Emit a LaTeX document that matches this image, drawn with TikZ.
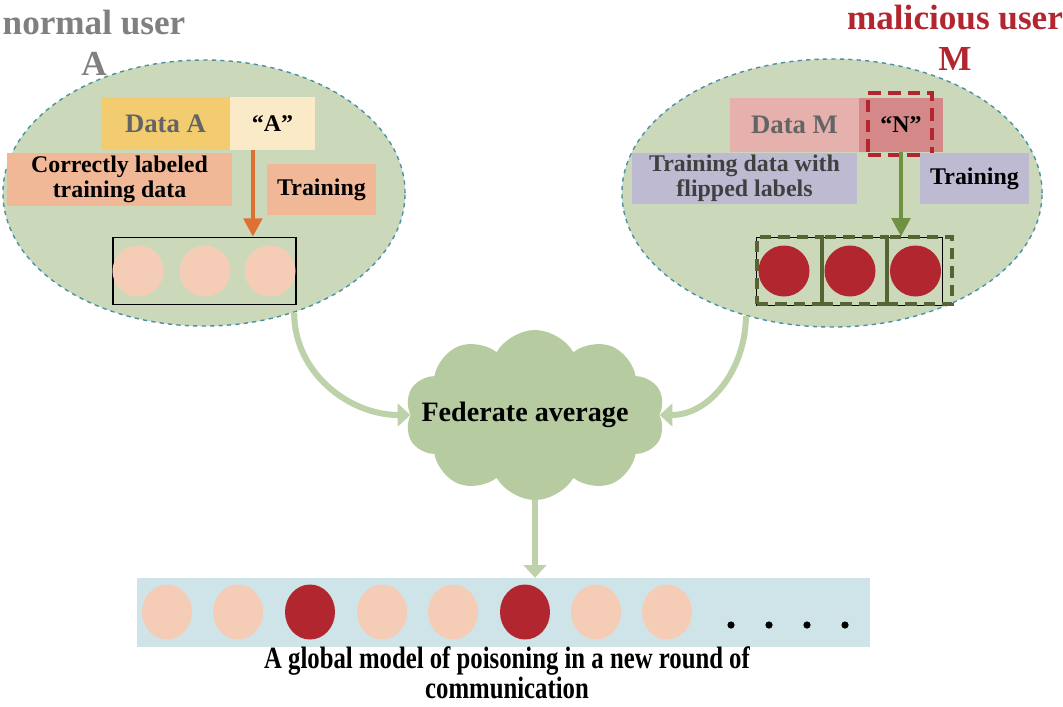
\documentclass[tikz,border=0pt]{standalone}
\usepackage{fontspec}
\setmainfont{Liberation Serif}
\newfontfamily\capfont[FakeStretch=0.8]{Liberation Serif}
\usetikzlibrary{shapes.geometric,shapes.symbols,arrows.meta}

\definecolor{userfill}{RGB}{203,217,186}
\definecolor{userline}{RGB}{75,145,165}
\definecolor{goldfill}{RGB}{242,204,110}
\definecolor{creamfill}{RGB}{251,234,200}
\definecolor{salmonfill}{RGB}{241,184,152}
\definecolor{pinkfill}{RGB}{230,176,172}
\definecolor{rosefill}{RGB}{212,136,136}
\definecolor{lavfill}{RGB}{190,186,210}
\definecolor{poisonred}{RGB}{178,38,48}
\definecolor{cleanpink}{RGB}{245,205,182}
\definecolor{cloudfill}{RGB}{183,203,160}
\definecolor{flowgreen}{RGB}{190,210,170}
\definecolor{barfill}{RGB}{206,228,232}
\definecolor{orangearrow}{RGB}{222,112,50}
\definecolor{greenarrow}{RGB}{112,145,65}
\definecolor{darkgreen}{RGB}{85,100,50}
\definecolor{titlegray}{RGB}{128,128,128}
\definecolor{textgray}{RGB}{100,100,100}

\begin{document}
\begin{tikzpicture}[x=0.025cm, y=-0.025cm,
    user/.style={ellipse, draw=userline, dashed, line width=1pt, fill=userfill, inner sep=0pt},
    tag/.style={rectangle, inner sep=0pt, align=center, font=\bfseries\fontsize{17}{18}\selectfont},
    datatag/.style={tag, font=\bfseries\fontsize{19}{20}\selectfont},
    weight/.style={circle, inner sep=0pt, minimum size=1.275cm},
    globalw/.style={ellipse, inner sep=0pt, minimum width=1.25cm, minimum height=1.375cm},
    dot/.style={circle, fill=black, inner sep=0pt, minimum size=0.18cm},
    flow/.style={draw=flowgreen, line width=4.3pt, -{Triangle[length=9pt,width=16pt]}},
    title/.style={align=center, inner sep=0pt, font=\bfseries\fontsize{25}{29}\selectfont}]

    \useasboundingbox (0,0) rectangle (1063,706);

    % Titles
    \node[title, text=titlegray] (titleA) at (94,43) {normal user\\A};
    \node[title, text=poisonred] (titleM) at (955,38) {malicious user\\M};

    % Users
    \node[user, minimum width=10.05cm, minimum height=6.65cm] (userA) at (204,193) {};
    \node[user, minimum width=10.5cm, minimum height=6.7cm] (userM) at (832,193) {};

    % Normal user A
    \node[datatag, fill=goldfill, text=textgray, minimum width=3.225cm, minimum height=1.325cm] (dataA) at (165.5,123.5) {Data A};
    \node[tag, fill=creamfill, minimum width=2.125cm, minimum height=1.325cm] (labelA) at (272.5,123.5) {\textquotedblleft A\textquotedblright};
    \node[tag, fill=salmonfill, minimum width=5.625cm, minimum height=1.325cm] (cleanA) at (119.5,179.5) {Correctly labeled\\training data};
    \node[tag, fill=salmonfill, minimum width=2.725cm, minimum height=1.275cm] (trainA) at (321.5,189.5) {Training};
    \node[draw=black, line width=1.2pt, minimum width=4.575cm, minimum height=1.675cm, inner sep=0pt] (rowA) at (204.5,271) {};
    \node[weight, fill=cleanpink] (wA1) at (138,271) {};
    \node[weight, fill=cleanpink] (wA2) at (205,271) {};
    \node[weight, fill=cleanpink] (wA3) at (270,271) {};
    \draw[orangearrow, line width=3pt, -{Triangle[length=13pt,width=13pt]}] ([xshift=-0.49cm]labelA.south) -- ([xshift=-0.49cm]labelA.south |- rowA.north);

    % Malicious user M
    \node[datatag, fill=pinkfill, text=textgray, minimum width=3.225cm, minimum height=1.35cm] (dataM) at (794.5,124.5) {Data M};
    \node[tag, fill=rosefill, minimum width=2.1cm, minimum height=1.35cm] (labelM) at (901,124.5) {\textquotedblleft N\textquotedblright};
    \node[draw=poisonred, dashed, dash pattern=on 9pt off 5pt, line width=2.2pt, minimum width=1.6cm, minimum height=1.55cm, inner sep=0pt] (flipbox) at (900,124) {};
    \node[tag, fill=lavfill, text=black!75, minimum width=5.625cm, minimum height=1.275cm] (flipM) at (744.5,178.5) {Training data with\\flipped labels};
    \node[tag, fill=lavfill, minimum width=2.725cm, minimum height=1.275cm] (trainM) at (974.5,178.5) {Training};
    \node[draw=black, line width=0.7pt, minimum width=4.625cm, minimum height=1.7cm, inner sep=0pt] (rowM) at (849.5,271) {};
    \foreach \i/\x in {1/789.5, 2/854.5, 3/919.5}
        \node[draw=darkgreen, dashed, dash pattern=on 8pt off 5pt, line width=2.6pt, minimum width=1.625cm, minimum height=1.675cm, inner sep=0pt] (cellM\i) at (\x,270.5) {};
    \node[weight, fill=poisonred] (wM1) at (784,271) {};
    \node[weight, fill=poisonred] (wM2) at (850,271) {};
    \node[weight, fill=poisonred] (wM3) at (915.5,271) {};
    \draw[greenarrow, line width=3pt, -{Triangle[length=13pt,width=13pt]}] (labelM.south) -- (labelM.south |- rowM.north);

    % Aggregation
    \node[cloud, cloud puffs=10, cloud puff arc=120, aspect=1.5, fill=cloudfill, inner sep=0pt,
          minimum width=6.5cm, minimum height=4.25cm,
          label={[font=\bfseries\fontsize{20}{22}\selectfont, xshift=-0.25cm]center:Federate average}] (fedavg) at (535,415) {};
    \draw[flow] (userA.-53) to[out=-90, in=180] (fedavg.west);
    \draw[flow] (userM.-125) to[out=-90, in=0] (fedavg.east);

    % Global model
    \node[rectangle, fill=barfill, inner sep=0pt, minimum width=18.325cm, minimum height=1.725cm] (globalbar) at (503.5,612.5) {};
    \draw[flow] (fedavg.south) -- (fedavg.south |- globalbar.north);
    \foreach \i/\x/\c in {1/167/cleanpink, 2/238/cleanpink, 3/310/poisonred, 4/382/cleanpink,
                          5/453/cleanpink, 6/525/poisonred, 7/596/cleanpink, 8/667/cleanpink}
        \node[globalw, fill=\c] (g\i) at (\x,612) {};
    \foreach \i/\x in {1/731, 2/769, 3/807, 4/845}
        \node[dot] (d\i) at (\x,625) {};
    \node[align=center, inner sep=0pt, font=\capfont\bfseries\fontsize{22}{21}\selectfont] (caption) at (507,673) {A global model of poisoning in a new round of\\communication};
\end{tikzpicture}
\end{document}
